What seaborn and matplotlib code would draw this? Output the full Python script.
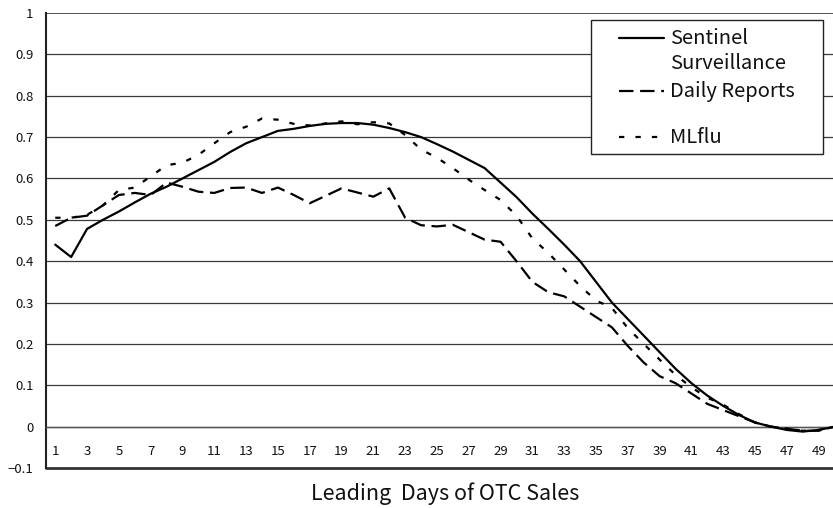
import numpy as np
import pandas as pd
import matplotlib
matplotlib.use('Agg')
import matplotlib.pyplot as plt
from matplotlib.patches import Rectangle
from matplotlib.ticker import FixedLocator
import seaborn as sns

# leading days 1..50
days = list(range(1, 51))

sentinel = [0.44, 0.41, 0.478, 0.50, 0.52, 0.542, 0.563, 0.58, 0.60, 0.62,
            0.64, 0.664, 0.685, 0.70, 0.715, 0.72, 0.727, 0.732, 0.734, 0.734,
            0.73, 0.722, 0.712, 0.70, 0.683, 0.665, 0.645, 0.625, 0.59, 0.555,
            0.515, 0.478, 0.44, 0.40, 0.35, 0.30, 0.26, 0.22, 0.18, 0.14,
            0.105, 0.075, 0.05, 0.028, 0.01, 0.0, -0.008, -0.012, -0.008, 0.0]

daily = [0.485, 0.505, 0.51, 0.535, 0.56, 0.565, 0.56, 0.59, 0.58, 0.568,
         0.565, 0.577, 0.578, 0.565, 0.578, 0.56, 0.54, 0.558, 0.576, 0.566,
         0.556, 0.576, 0.505, 0.487, 0.484, 0.488, 0.47, 0.452, 0.447, 0.40,
         0.35, 0.325, 0.315, 0.29, 0.265, 0.24, 0.195, 0.155, 0.122, 0.105,
         0.08, 0.055, 0.04, 0.025, 0.01, 0.0, -0.005, -0.01, -0.01, 0.0]

mlflu = [0.505, 0.505, 0.512, 0.535, 0.572, 0.578, 0.605, 0.632, 0.638, 0.657,
         0.685, 0.712, 0.725, 0.745, 0.742, 0.732, 0.728, 0.733, 0.738, 0.731,
         0.736, 0.733, 0.705, 0.67, 0.65, 0.625, 0.597, 0.572, 0.548, 0.51,
         0.455, 0.42, 0.38, 0.34, 0.305, 0.287, 0.238, 0.20, 0.162, 0.125,
         0.095, 0.07, 0.053, 0.03, 0.01, 0.0, -0.005, -0.01, -0.008, 0.0]

series_names = ['Sentinel Surveillance', 'Daily Reports', 'MLflu']
legend_labels = ['Sentinel\nSurveillance', 'Daily Reports', 'MLflu']
y_ticks = [-0.1, 0, 0.1, 0.2, 0.3, 0.4, 0.5, 0.6, 0.7, 0.8, 0.9, 1]
y_tick_labels = ['\u22120.1', '0', '0.1', '0.2', '0.3', '0.4', '0.5', '0.6',
                 '0.7', '0.8', '0.9', '1']
x_tick_labels = [str(d) for d in days if d % 2 == 1]
x_label = 'Leading  Days of OTC Sales'

df = pd.DataFrame({
    'day': days * 3,
    'value': sentinel + daily + mlflu,
    'series': np.repeat(series_names, len(days)),
})

sns.set_style('white')
plt.rcParams['font.family'] = ['Noto Sans CJK JP', 'DejaVu Sans']

W, H = 833, 508
fig = plt.figure(figsize=(W / 100, H / 100), dpi=100)
# axes box in pixels: left 46, right 833, top 13, bottom 468
ax = fig.add_axes([46 / W, 1 - 468 / H, (833 - 46) / W, (468 - 13) / H])

dash_styles = {
    'Sentinel Surveillance': '',
    'Daily Reports': (6.5, 3.0),
    'MLflu': (2.4, 5.0),
}
sns.lineplot(data=df, x='day', y='value', style='series', dashes=dash_styles,
             color='black', linewidth=1.6, legend=False, ax=ax, zorder=3)

ax.set_xlim(0.42, 49.9)
ax.set_ylim(-0.1, 1.0)

# horizontal gridlines
for yv in y_ticks[1:-1]:
    ax.axhline(yv, color='#3a3a3a', linewidth=0.9, zorder=1)
ax.axhline(1.0, color='#222222', linewidth=1.1, zorder=1)
ax.axhline(-0.1, color='#333333', linewidth=2.0, zorder=2, clip_on=False)

ax.set_yticks(y_ticks)
ax.set_yticklabels(y_tick_labels)
ax.tick_params(axis='y', length=0, pad=9, labelsize=9.5, colors='#111111')

# x axis sits on the zero line, ticks between categories
for s in ['top', 'right']:
    ax.spines[s].set_visible(False)
ax.spines['bottom'].set_position(('data', 0))
ax.spines['bottom'].set_color('#555555')
ax.spines['bottom'].set_linewidth(1.0)
ax.spines['left'].set_color('#222222')
ax.spines['left'].set_linewidth(1.5)

ax.set_xticks([d for d in days if d % 2 == 1])
ax.set_xticklabels(x_tick_labels)
ax.xaxis.set_minor_locator(FixedLocator([d + 0.5 for d in days[:-1]]))
ax.tick_params(axis='x', which='major', length=0, pad=13, labelsize=9.5,
               colors='#111111')
ax.tick_params(axis='x', which='minor', direction='in', length=4,
               width=0.9, color='#333333')
ax.set_xlabel('')
ax.set_ylabel('')

fig.text(445 / W, 1 - 494 / H, x_label, ha='center', va='center',
         fontsize=15.5, color='#111111')

# legend box (drawn by hand to match the original layout)
def px_to_ax(px, py):
    return (px - 46) / (833 - 46), (468 - py) / (468 - 13)

bx0, by0 = px_to_ax(591, 154)
bx1, by1 = px_to_ax(823, 20)
ax.add_patch(Rectangle((bx0, by0), bx1 - bx0, by1 - by0, transform=ax.transAxes,
                       facecolor='white', edgecolor='#222222', linewidth=1.0,
                       zorder=5, clip_on=False))
rows = [37.5, 91, 137]
text_rows = [51, 91, 137]
for name, lab, ry, ty in zip(series_names, legend_labels, rows, text_rows):
    lx0, ly = px_to_ax(619, ry)
    lx1, _ = px_to_ax(664, ry)
    line, = ax.plot([lx0, lx1], [ly, ly], transform=ax.transAxes, color='black',
                    linewidth=1.6, zorder=6, clip_on=False)
    if dash_styles[name]:
        line.set_dashes(dash_styles[name])
    tx, tyy = px_to_ax(670, ty)
    ax.text(tx, tyy, lab, transform=ax.transAxes, ha='left', va='center',
            fontsize=14.5, color='#111111', zorder=6, linespacing=1.3)

fig.savefig('out.png', dpi=100)
